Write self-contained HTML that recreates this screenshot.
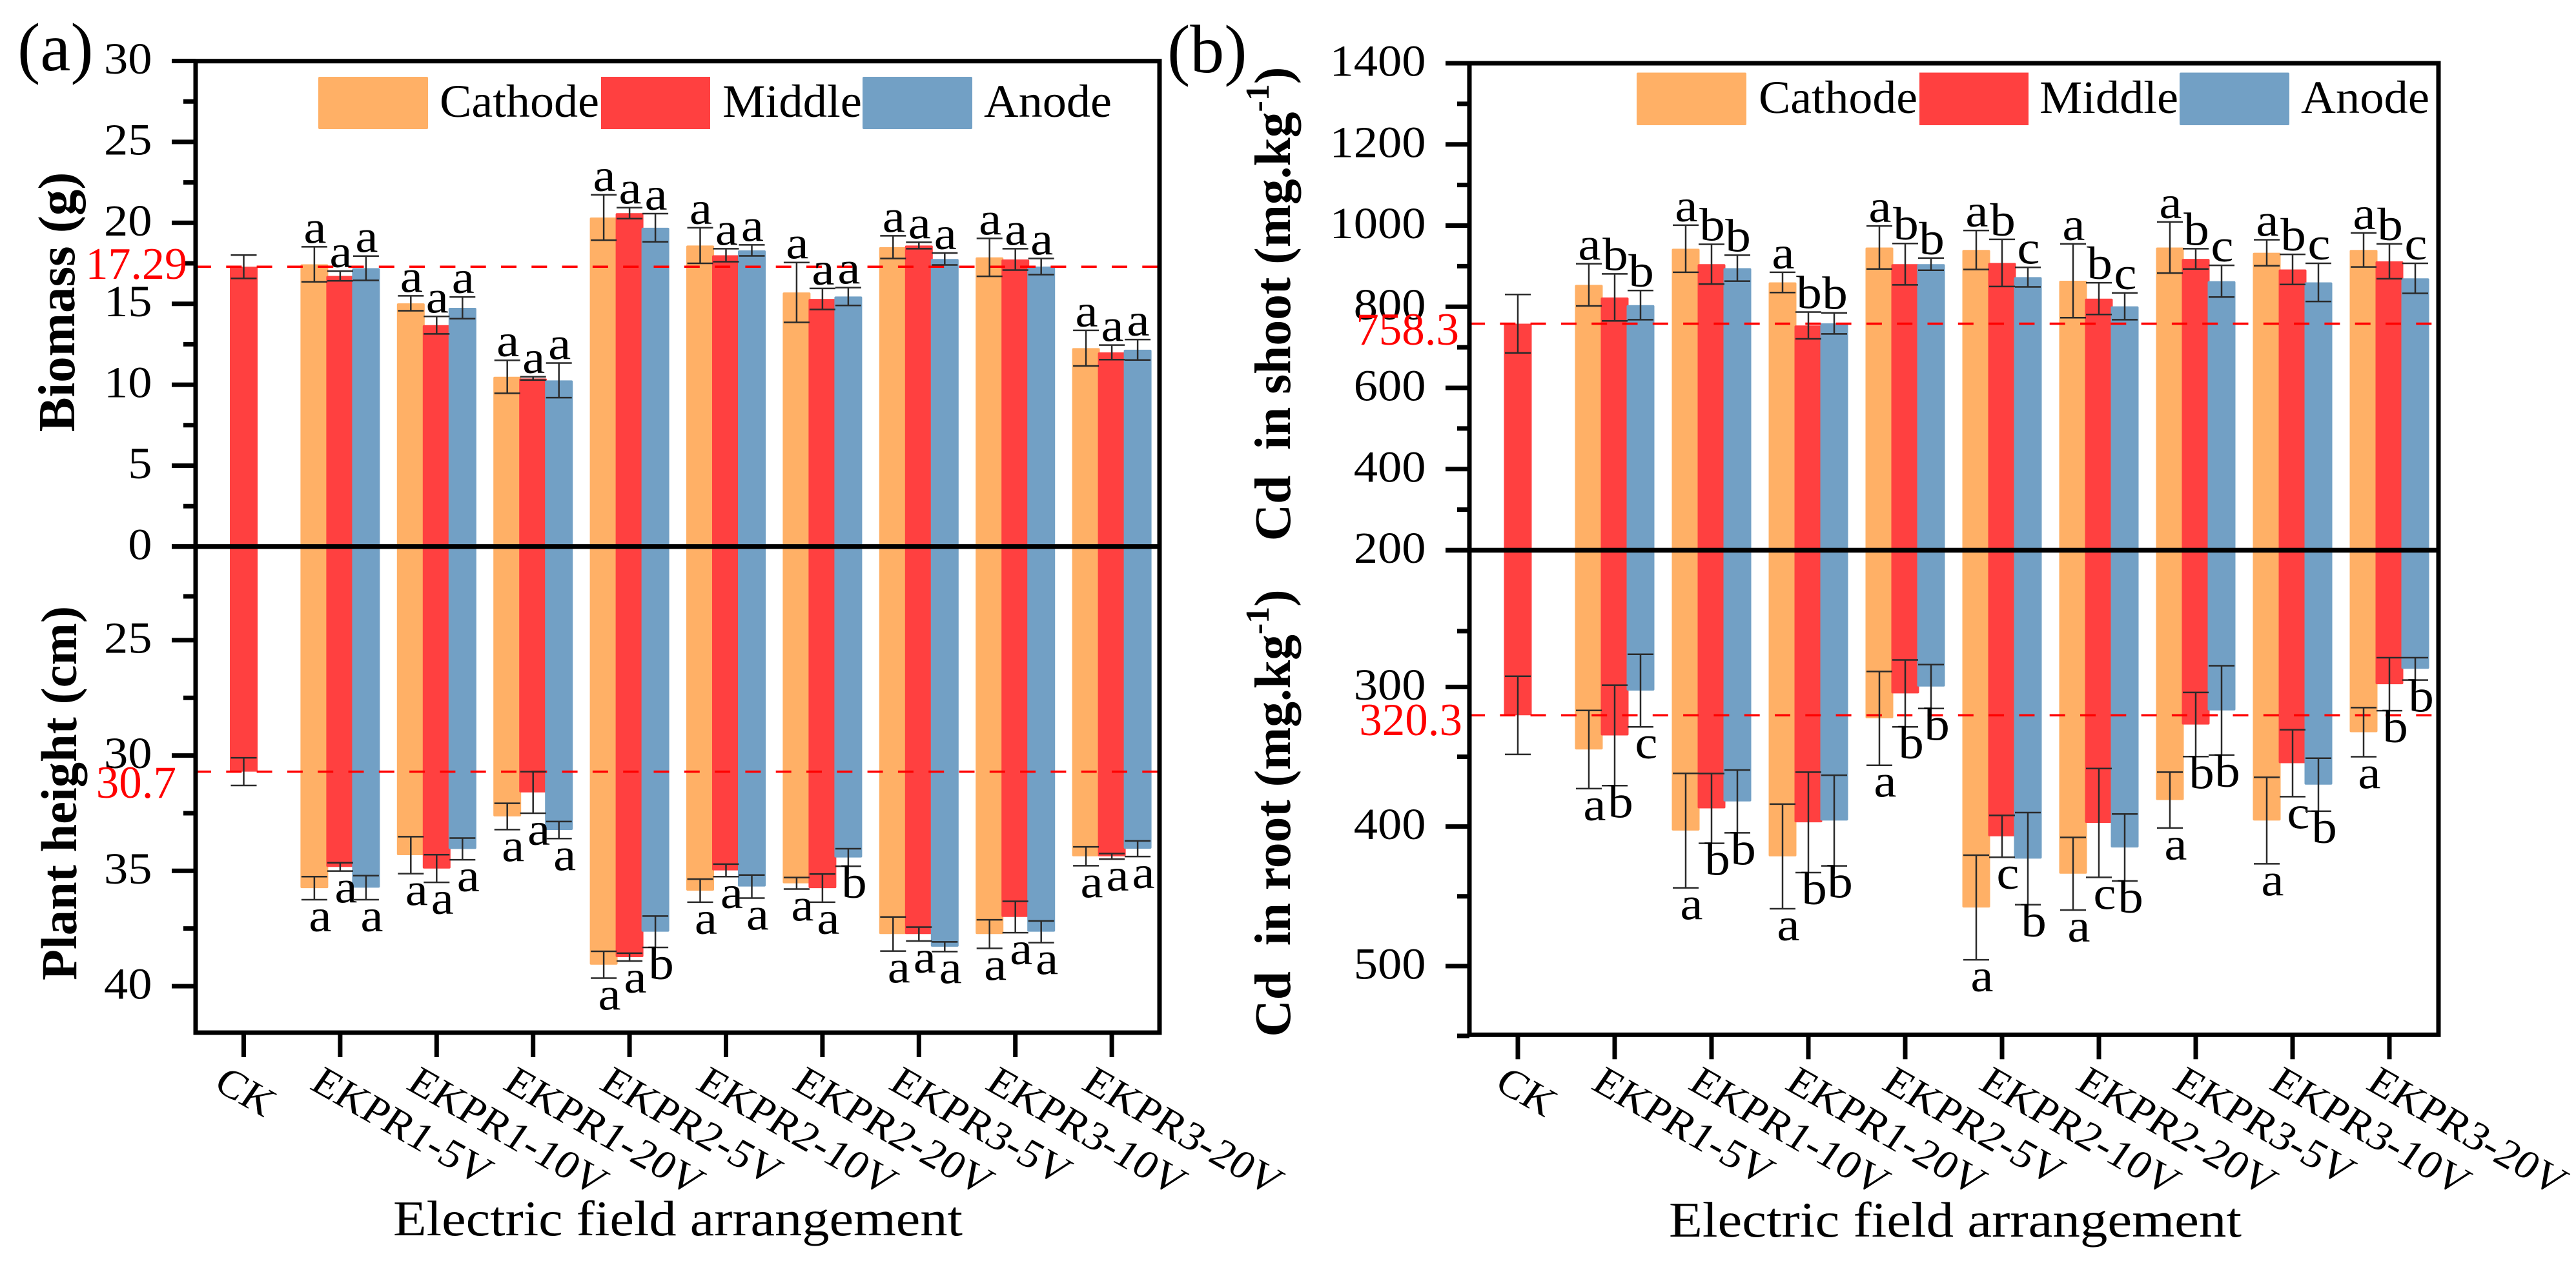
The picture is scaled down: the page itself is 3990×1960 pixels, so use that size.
<!DOCTYPE html>
<html lang="en">
<head>
<meta charset="utf-8">
<title>Biomass, plant height and Cd content under electric field arrangements</title>
<style>
html,body{margin:0;padding:0;background:#fff;width:3990px;height:1960px;overflow:hidden}
svg{display:block;font-family:"Liberation Serif","Times New Roman",serif}
</style>
</head>
<body>
<svg id="figure" xmlns="http://www.w3.org/2000/svg" width="3990" height="1960" viewBox="0 0 3990 1960">
  <rect x="0" y="0" width="3990" height="1960" fill="#ffffff"/>
  <g id="panel-a"></g>
  <g id="panel-b"></g>

  <g fill="#000">
    <text x="27" y="109" font-size="106">(a)</text>
    <text x="1808" y="112" font-size="106">(b)</text>

    <text transform="translate(115,468) rotate(-90)" text-anchor="middle" font-size="81" font-weight="bold">Biomass (g)</text>
    <text transform="translate(118,1229) rotate(-90)" text-anchor="middle" font-size="78.5" font-weight="bold">Plant height (cm)</text>
    <text transform="translate(1998,471) rotate(-90)" text-anchor="middle" font-size="79.5" font-weight="bold">Cd&#160; in shoot (mg.kg<tspan font-size="52" dy="-33">-1</tspan><tspan dy="33">)</tspan></text>
    <text transform="translate(1998,1260) rotate(-90)" text-anchor="middle" font-size="79.5" font-weight="bold">Cd&#160; in root (mg.kg<tspan font-size="52" dy="-33">-1</tspan><tspan dy="33">)</tspan></text>

    <text x="609" y="1914" font-size="77" textLength="882" lengthAdjust="spacingAndGlyphs">Electric field arrangement</text>
    <text x="2585" y="1916" font-size="77" textLength="887" lengthAdjust="spacingAndGlyphs">Electric field arrangement</text>

    <text x="290" y="432" text-anchor="end" font-size="70" fill="#ff0000">17.29</text>
    <text x="273" y="1236" text-anchor="end" font-size="71" fill="#ff0000">30.7</text>
    <text x="2260" y="534" text-anchor="end" font-size="71" fill="#ff0000">758.3</text>
    <text x="2265" y="1139" text-anchor="end" font-size="71" fill="#ff0000">320.3</text>
  </g>

  <g>
    <rect x="493" y="119" width="170" height="81" rx="2" fill="#FFB066"/>
    <text x="681" y="181" font-size="72" textLength="247" lengthAdjust="spacingAndGlyphs">Cathode</text>
    <rect x="931" y="119" width="169" height="81" fill="#FF4040"/>
    <text x="1119" y="181" font-size="72" textLength="216" lengthAdjust="spacingAndGlyphs">Middle</text>
    <rect x="1336" y="119" width="170" height="81" rx="2" fill="#72A0C5"/>
    <text x="1524" y="181" font-size="72" textLength="198" lengthAdjust="spacingAndGlyphs">Anode</text>
  </g>
  <g>
    <rect x="2535" y="112.5" width="170" height="81.5" rx="2" fill="#FFB066"/>
    <text x="2724" y="175" font-size="72" textLength="246" lengthAdjust="spacingAndGlyphs">Cathode</text>
    <rect x="2973" y="112.5" width="169" height="81.5" fill="#FF4040"/>
    <text x="3159" y="175" font-size="72" textLength="215" lengthAdjust="spacingAndGlyphs">Middle</text>
    <rect x="3376" y="112.5" width="170" height="81.5" rx="2" fill="#72A0C5"/>
    <text x="3564" y="175" font-size="72" textLength="199" lengthAdjust="spacingAndGlyphs">Anode</text>
  </g>
</svg>

<script>
// ---------- shared categories ----------
const categories = ['CK','EKPR1-5V','EKPR1-10V','EKPR1-20V','EKPR2-5V','EKPR2-10V','EKPR2-20V','EKPR3-5V','EKPR3-10V','EKPR3-20V'];

// ---------- panel (a) upper: biomass (g) ----------
const biomassCathode    = [null,17.44,15.03,10.49,20.33,18.6,15.7,18.5,17.87,12.26];
const biomassCathodeErr = [null,1.08,0.46,1.02,1.4,1.1,1.85,0.7,1.17,1.1];
const biomassMiddle     = [17.29,16.72,13.68,10.39,20.6,18.0,15.3,18.6,17.74,12.0];
const biomassMiddleErr  = [0.72,0.3,0.54,0.1,0.34,0.4,0.65,0.2,0.66,0.45];
const biomassAnode      = [null,17.2,14.75,10.27,19.7,18.3,15.45,17.77,17.3,12.16];
const biomassAnodeErr   = [null,0.75,0.67,1.07,0.87,0.34,0.55,0.37,0.5,0.63];
const biomassLetters    = ['---','aaa','aaa','aaa','aaa','aaa','aaa','aaa','aaa','aaa'];
const biomassMajorTicks = [0,5,10,15,20,25,30];
const biomassMinorTicks = [2.5,7.5,12.5,17.5,22.5,27.5];
const biomassReference  = 17.29;

// ---------- panel (a) lower: plant height (cm) ----------
const heightCathode    = [null,35.75,34.32,32.64,39.07,35.86,35.54,37.74,37.74,34.37];
const heightCathodeErr = [null,0.5,0.8,0.57,0.58,0.5,0.25,0.74,0.62,0.41];
const heightMiddle     = [30.7,34.83,34.9,31.6,38.74,34.98,35.75,37.74,37.0,34.37];
const heightMiddleErr  = [0.6,0.18,0.6,0.9,0.17,0.27,0.61,0.3,0.68,0.12];
const heightAnode      = [null,35.73,34.05,33.23,37.64,35.68,34.42,38.29,37.64,34.04];
const heightAnodeErr   = [null,0.52,0.47,0.37,0.68,0.5,0.38,0.21,0.47,0.34];
const heightLetters    = ['---','aaa','aaa','aaa','aab','aaa','aab','aaa','aaa','aaa'];
const heightMajorTicks = [25,30,35,40];
const heightMinorTicks = [23.1,27.5,32.5,37.5];
const heightReference  = 30.7;

// ---------- panel (b) upper: Cd in shoot ----------
const shootCathode    = [null,854,943,860,946,940,864,946,933,940];
const shootCathodeErr = [null,52,58,25,53,48,91,63,32,42];
const shootMiddle     = [758.3,823,905,754,905,908,820,918,892,912];
const shootMiddleErr  = [72,58,49,33,51,58,39,25,37,43];
const shootAnode      = [null,804,895,759,905,873,801,863,860,870];
const shootAnodeErr   = [null,36,32,26,15,24,33,39,47,37];
const shootLetters    = ['---','abb','abb','abb','abb','abc','abc','abc','abc','abc'];
const shootMajorTicks = [200,400,600,800,1000,1200,1400];
const shootMinorTicks = [300,500,700,900,1100,1300];
const shootReference  = 758.3;

// ---------- panel (b) lower: Cd in root ----------
const rootCathode    = [null,344.8,402.9,421.4,322.5,458,433.8,381,395.7,332.4];
const rootCathodeErr = [null,28,41,37.5,33.6,37.5,26,20,31,17.6];
const rootMiddle     = [320.3,334.7,387,397,304.6,407,397.4,326.9,354.6,298];
const rootMiddleErr  = [28,36,25,36,24,15,39,23,24,19];
const rootAnode      = [null,302.6,382,395.7,299.7,423,415,316.8,370,287];
const rootAnodeErr   = [null,26,22.5,32.5,15.7,33,24,32,19,8];
const rootLetters    = ['---','abc','abb','abb','abb','acb','acb','abb','acb','abb'];
const rootMajorTicks = [300,400,500];
const rootMinorTicks = [260,350,450,550];
const rootReference  = 320.3;

// ---------- scales ----------
function yBiomass(v){ return 846.9 - v * 25.08; }
function yHeight(v){ return 1170.6 + (v - 30) * 35.74; }
function yShoot(v){ return 852.5 - (v - 200) * 0.6287; }
function yRoot(v){ return 1064.4 + (v - 300) * 2.1625; }
function xA(i){ return 377.5 + i * 149.4; }
function xB(i){ return 2351 + i * 150; }

const seriesColors = ['#FFB066','#FF4040','#72A0C5'];
const seriesNames = ['cathode','middle','anode'];
const NS = 'http://www.w3.org/2000/svg';

function make(parent, tag, attrs, text){
  const el = document.createElementNS(NS, tag);
  for (const k in attrs) el.setAttribute(k, attrs[k]);
  if (text !== undefined) el.textContent = text;
  parent.appendChild(el);
  return el;
}

function drawSeries(root, o){
  o.series.forEach(function(vals, s){
    vals.forEach(function(v, i){
      if (v === null) return;
      const cx = o.x(i) + (s - 1) * 40;
      const y = o.y(v);
      const top = Math.min(y, o.zero), h = Math.abs(y - o.zero);
      const bar = make(root, 'rect', {x: cx - 21.5, y: top, width: 43, height: h, rx: 2, fill: seriesColors[s]});
      
      
    });
  });
}

function drawReference(root, o){
  const line = make(root, 'line', {x1: o.left, x2: o.right, y1: o.y(o.reference), y2: o.y(o.reference), stroke: '#ff0000', 'stroke-width': 3.5, 'stroke-dasharray': '24 23.3'});
  
  
}

function drawErrors(root, o){
  const dir = o.direction;
  o.series.forEach(function(vals, s){
    vals.forEach(function(v, i){
      if (v === null) return;
      const cx = o.x(i) + (s - 1) * 40;
      const e = o.errors[s][i];
      const y1 = o.y(v - e), y2 = o.y(v + e);
      const g = make(root, 'g', {stroke: '#2a2a2a', 'stroke-width': 2.5, fill: 'none'});
      
      
      make(g, 'line', {x1: cx, x2: cx, y1: y1, y2: y2});
      make(g, 'line', {x1: cx - 20, x2: cx + 20, y1: y1, y2: y1});
      make(g, 'line', {x1: cx - 20, x2: cx + 20, y1: y2, y2: y2});
      const letter = o.letters[i].charAt(s);
      if (letter !== '-'){
        const ty = dir < 0 ? Math.min(y1, y2) - 6 : Math.max(y1, y2) + 49;
        const tx = dir < 0 ? cx + 1 : cx + 9;
        const label = make(root, 'text', {'text-anchor': 'middle', 'font-size': 72, fill: '#000', transform: 'translate(' + tx + ',' + ty + ') scale(1.1,1)'}, letter);
        
        
      }
    });
  });
}

function drawYAxis(root, o){
  o.major.forEach(function(v){
    const y = o.y(v);
    const t = make(root, 'line', {x1: o.left - 37, x2: o.left, y1: y, y2: y, stroke: '#000', 'stroke-width': 7});
    
    
    const l = make(root, 'text', {'text-anchor': 'end', 'font-size': 69, fill: '#000', transform: 'translate(' + o.labelX + ',' + (y + 19.5) + ') scale(1.08,1)'}, String(v));
    
    
  });
  o.minor.forEach(function(v){
    const y = o.y(v);
    const t = make(root, 'line', {x1: o.left - 19, x2: o.left, y1: y, y2: y, stroke: '#000', 'stroke-width': 7});
    
    
  });
}

function drawFrame(root, p){
  const frame = make(root, 'rect', {x: p.left, y: p.top, width: p.right - p.left, height: p.bottom - p.top, fill: 'none', stroke: '#000', 'stroke-width': 7});
  
  
  const zero = make(root, 'line', {x1: p.left - 37, x2: p.right, y1: p.zero, y2: p.zero, stroke: '#000', 'stroke-width': 7.5});
  
  
  categories.forEach(function(c, i){
    const x = p.x(i);
    const t = make(root, 'line', {x1: x, x2: x, y1: p.bottom, y2: p.bottom + 38, stroke: '#000', 'stroke-width': 7});
    
    
    const tx = x + p.labelDx, ty = 1686;
    const l = make(root, 'text', {'font-size': 62, fill: '#000', transform: 'translate(' + tx + ',' + ty + ') scale(1.1,1) rotate(32)'}, c);
    
    
  });
}

function drawPanel(rootId, p){
  const root = document.getElementById(rootId);
  p.parts.forEach(function(part){
    const o = Object.assign({}, p, part);
    drawSeries(root, o);
  });
  p.parts.forEach(function(part){
    const o = Object.assign({}, p, part);
    drawReference(root, o);
  });
  p.parts.forEach(function(part){
    const o = Object.assign({}, p, part);
    drawErrors(root, o);
    drawYAxis(root, o);
  });
  drawFrame(root, p);
}

drawPanel('panel-a', {
  key: 'a', left: 303, right: 1796, top: 94.7, bottom: 1600, zero: 846.9, x: xA, labelX: 235.5, labelDx: -49,
  parts: [
    {key: 'biomass', direction: -1, y: yBiomass, reference: biomassReference, letters: biomassLetters,
     major: biomassMajorTicks, minor: biomassMinorTicks,
     series: [biomassCathode, biomassMiddle, biomassAnode],
     errors: [biomassCathodeErr, biomassMiddleErr, biomassAnodeErr]},
    {key: 'height', direction: 1, y: yHeight, reference: heightReference, letters: heightLetters,
     major: heightMajorTicks, minor: heightMinorTicks,
     series: [heightCathode, heightMiddle, heightAnode],
     errors: [heightCathodeErr, heightMiddleErr, heightAnodeErr]}
  ]
});

drawPanel('panel-b', {
  key: 'b', left: 2276, right: 3777, top: 98, bottom: 1603.3, zero: 852.5, x: xB, labelX: 2208.5, labelDx: -38.4,
  parts: [
    {key: 'shoot', direction: -1, y: yShoot, reference: shootReference, letters: shootLetters,
     major: shootMajorTicks, minor: shootMinorTicks,
     series: [shootCathode, shootMiddle, shootAnode],
     errors: [shootCathodeErr, shootMiddleErr, shootAnodeErr]},
    {key: 'root', direction: 1, y: yRoot, reference: rootReference, letters: rootLetters,
     major: rootMajorTicks, minor: rootMinorTicks,
     series: [rootCathode, rootMiddle, rootAnode],
     errors: [rootCathodeErr, rootMiddleErr, rootAnodeErr]}
  ]
});
</script>
</body>
</html>
